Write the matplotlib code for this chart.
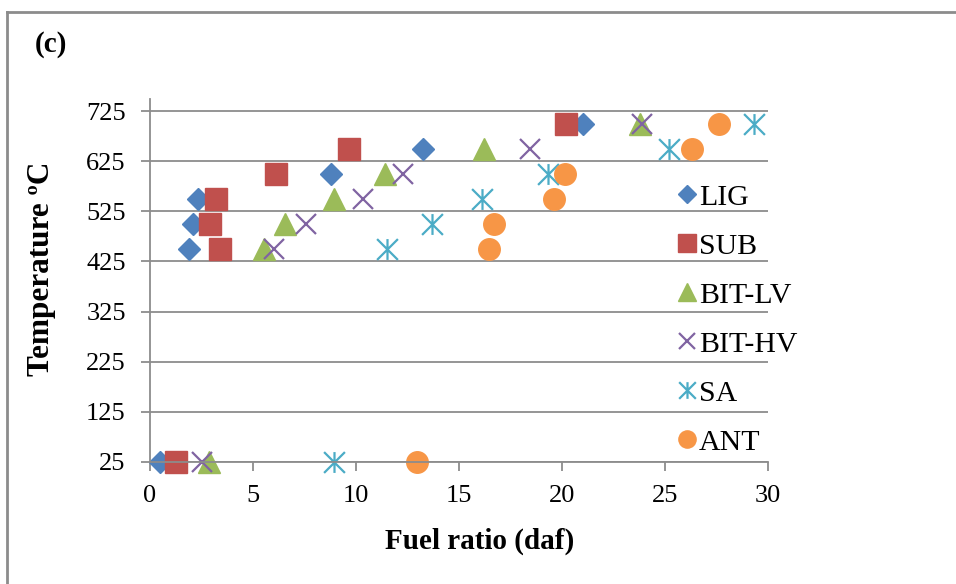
"""Pyrolysis temperature vs fuel ratio scatter, panel (c)"""

import matplotlib
matplotlib.use("Agg")
import matplotlib.pyplot as plt
from matplotlib.path import Path
from matplotlib.lines import Line2D

plt.rcParams['font.family'] = ['Liberation Serif', 'DejaVu Serif']

# fuel ratio (daf) and temperature for each coal rank
lig_x = [0.5, 1.9, 2.1, 2.35, 8.8, 13.25, 21.0]
lig_y = [25, 450, 500, 550, 600, 650, 700]

sub_x = [1.25, 3.4, 2.9, 3.2, 6.1, 9.65, 20.2]
sub_y = [25, 450, 500, 550, 600, 650, 700]

bitlv_x = [2.85, 5.55, 6.55, 8.95, 11.4, 16.2, 23.8]
bitlv_y = [25, 450, 500, 550, 600, 650, 700]

bithv_x = [2.5, 6.0, 7.55, 10.35, 12.3, 18.45, 23.9]
bithv_y = [25, 450, 500, 550, 600, 650, 700]

sa_x = [8.95, 11.5, 13.7, 16.1, 19.3, 25.2, 29.3]
sa_y = [25, 450, 500, 550, 600, 650, 700]

ant_x = [12.95, 16.45, 16.7, 19.6, 20.15, 26.3, 27.6]
ant_y = [25, 450, 500, 550, 600, 650, 700]

xticks = [0, 5, 10, 15, 20, 25, 30]
yticks = [25, 125, 225, 325, 425, 525, 625, 725]

# x with a vertical bar through it
star = Path([(-0.5, -0.5), (0.5, 0.5), (-0.5, 0.5), (0.5, -0.5), (0, -0.5), (0, 0.5)],
            [Path.MOVETO, Path.LINETO, Path.MOVETO, Path.LINETO, Path.MOVETO, Path.LINETO])

W, H = 956, 584
fig = plt.figure(figsize=(W / 100, H / 100), dpi=100)
ax = fig.add_axes([150 / W, 1 - 462 / H, 618 / W, 363.5 / H])

ax.plot(lig_x, lig_y, 'D', color='#4F81BD', ms=11.5, mec='#4F81BD', label='LIG', clip_on=False)
ax.plot(sub_x, sub_y, 's', color='#C0504D', ms=15.5, mec='#C0504D', label='SUB', clip_on=False)
ax.plot(bitlv_x, bitlv_y, '^', color='#9BBB59', ms=16, mec='#9BBB59', label='BIT-LV', clip_on=False)
ax.plot(bithv_x, bithv_y, 'x', color='#8064A2', ms=15, mew=1.6, label='BIT-HV', clip_on=False)
ax.plot(sa_x, sa_y, marker=star, ls='none', color='#4BACC6', ms=15, mew=1.6, label='SA', clip_on=False)
ax.plot(ant_x, ant_y, 'o', color='#F79646', ms=15.5, mec='#F79646', label='ANT', clip_on=False)

ax.set_xlim(0, 30)
ax.set_ylim(25, 750)
ax.set_xticks(xticks)
ax.set_yticks(yticks)
ax.yaxis.grid(True, color='#8C8C8C', lw=1.3)
ax.set_axisbelow(True)
for side in ['top', 'right']:
    ax.spines[side].set_visible(False)
for side in ['left', 'bottom']:
    ax.spines[side].set_color('#8C8C8C')
    ax.spines[side].set_linewidth(1.3)
ax.tick_params(axis='both', direction='out', color='#8C8C8C', width=1.3, length=6.5,
               labelsize=19)
ax.tick_params(axis='y', pad=11)
ax.tick_params(axis='x', pad=10)

fig.text(480 / W, 1 - 541 / H, 'Fuel ratio (daf)', fontsize=21, fontweight='bold',
         ha='center', va='center')
fig.text(42 / W, 1 - 269 / H, 'Temperature ºC', fontsize=22.5, fontweight='bold',
         rotation=90, ha='center', va='center')
fig.text(35 / W, 1 - 45 / H, '(c)', fontsize=21, fontweight='bold', ha='left', va='center')

leg = ax.legend(loc='upper left', bbox_to_anchor=(675 / W, 1 - 184 / H),
                bbox_transform=fig.transFigure, frameon=False, fontsize=21.5,
                markerscale=0.8, handlelength=0.8, handletextpad=0.0,
                labelspacing=0.74, borderpad=0, borderaxespad=0)

# chart frame, open to the right and bottom
fig.add_artist(Line2D([7 / W, 1.0], [1 - 12 / H, 1 - 12 / H], transform=fig.transFigure,
                      color='#8C8C8C', lw=2))
fig.add_artist(Line2D([7 / W, 7 / W], [1 - 12 / H, 0.0], transform=fig.transFigure,
                      color='#8C8C8C', lw=2))

plt.savefig('out.png', dpi=100)
